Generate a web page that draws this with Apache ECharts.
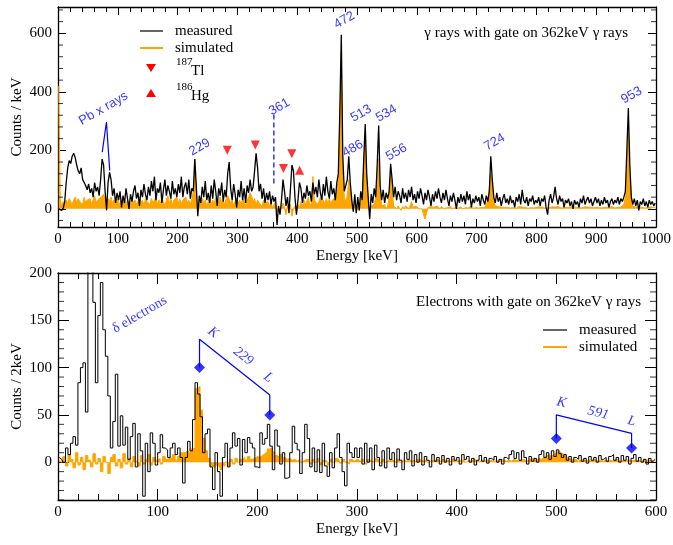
<!DOCTYPE html>
<html>
<head>
<meta charset="utf-8">
<script src="https://cdn.jsdelivr.net/npm/echarts@6/dist/echarts.min.js"></script>
<style>
  html, body { margin: 0; padding: 0; background: #fff; }
  #chart { width: 673px; height: 545px; }
</style>
</head>
<body>
<div id="chart"></div>
<script>
// ---- gamma spectrum (upper panel), one value per 2.5 keV starting at 0 keV
const GAMMA_BIN = 2.5;
const gammaMeasured = [
  0,2,-5,3,25,90,140,165,155,180,190,175,150,130,120,140,100,95,80,65,
  85,55,70,40,90,60,75,45,100,170,150,60,-5,90,125,100,45,70,20,55,
  30,60,5,45,20,70,35,0,50,25,60,80,35,55,10,65,40,85,50,30,
  75,45,95,60,110,30,70,55,90,20,65,100,45,80,60,35,95,50,70,40,
  85,55,110,40,75,90,50,100,35,70,60,170,80,-25,45,20,75,40,95,30,
  55,20,80,35,100,60,10,70,45,90,25,65,40,120,160,70,30,85,50,5,
  65,40,95,30,70,20,80,55,100,60,75,130,190,140,60,85,35,70,20,55,
  30,60,15,45,25,40,-55,10,-20,30,100,60,10,40,-15,70,150,130,40,-20,
  30,90,70,20,55,35,80,45,60,25,90,50,75,40,100,55,30,85,45,110,
  60,35,95,50,70,30,90,120,330,595,180,60,60,100,180,90,30,-10,50,-15,
  40,-5,60,30,170,290,120,40,-35,50,20,70,40,150,285,80,30,65,20,55,
  35,60,154,100,40,75,30,60,45,20,70,35,55,25,65,40,75,30,50,20,
  60,35,70,45,15,55,30,65,40,10,50,25,60,35,70,40,20,55,30,65,
  35,10,45,25,55,30,0,40,20,50,25,45,15,60,30,50,5,35,20,45,
  25,40,10,50,30,15,45,25,60,180,100,40,20,55,25,40,10,35,50,20,
  35,15,45,20,30,5,40,25,50,15,65,30,20,40,10,35,25,45,15,30,
  20,40,10,35,25,45,5,-20,30,50,20,40,75,35,15,45,25,35,5,30,
  20,35,10,25,0,30,15,25,5,35,20,45,15,30,40,20,35,10,25,40,
  20,35,10,30,15,40,20,30,5,25,35,15,30,20,40,15,35,25,40,60,
  200,345,150,40,15,35,10,30,-5,25,15,35,10,25,5,30,15,25,10,20
];
const gammaSimulated = [
  420,30,10,25,15,30,20,35,25,15,30,40,20,35,25,30,15,40,20,30,
  25,35,15,30,45,20,30,25,40,35,50,30,20,35,25,40,20,30,15,35,
  25,10,30,20,35,15,30,25,10,35,20,30,15,25,40,20,30,10,35,25,
  30,15,35,20,25,40,15,30,20,35,25,10,30,45,20,35,15,30,25,40,
  20,35,15,30,25,40,20,30,15,35,60,170,40,-5,25,15,35,20,30,10,
  25,40,15,30,20,35,10,25,40,20,30,15,35,45,40,20,30,10,25,35,
  20,30,15,35,25,10,30,40,55,45,25,35,15,30,20,25,10,30,20,15,
  25,10,20,5,15,25,-10,5,-15,10,20,5,-20,10,-5,15,-25,0,10,-10,
  15,5,25,10,30,15,20,40,10,20,110,30,35,15,25,40,20,30,15,35,
  20,35,15,30,25,40,60,100,300,540,150,40,25,45,100,60,15,5,20,-10,
  10,-5,20,40,150,250,90,20,-10,10,5,15,40,120,170,50,10,5,15,0,
  10,40,130,60,10,5,0,10,5,-5,8,0,10,5,0,10,25,5,0,10,
  5,0,-5,0,-20,-35,-15,5,0,8,3,5,0,10,5,0,8,5,0,6,
  5,3,8,0,6,4,10,2,5,7,0,6,4,8,3,5,10,2,6,4,
  5,3,8,5,10,5,15,30,70,120,80,25,10,5,8,3,6,4,5,3,
  5,8,3,6,4,7,2,5,8,4,6,3,5,7,2,6,4,8,3,5,
  6,4,7,3,5,8,2,6,4,5,7,3,6,4,8,5,3,6,4,7,
  5,3,6,4,7,2,5,8,4,6,3,5,7,4,6,3,5,8,4,6,
  5,7,3,6,4,8,5,3,6,4,7,5,3,8,5,6,6,8,15,40,
  150,260,120,30,8,5,7,3,6,4,5,8,3,6,4,5,7,3,5,4
];
const gammaYMajor = [0, 200, 400, 600];
const gammaYMinor = [-40, 40, 80, 120, 160, 240, 280, 320, 360, 440, 480, 520, 560, 640, 680];

// markers: [energy, counts]
const tlPoints = [[283, 200], [330, 218], [377, 138], [391, 188]];
const hgPoints = [[404, 132]];
const gammaLabels = [
  [237, 211, '229'], [479, 645, '472'], [493, 206, '486'], [507, 326, '513'],
  [549, 326, '534'], [566, 194, '556'], [730, 228, '724'], [959, 388, '953'],
  [370, 348, '361'], [76, 343, 'Pb x rays']
];
const pbLine = [[74, 194], [81, 297], [86.5, 131]];
const line361 = [[361, 87], [361, 327]];

// ---- electron spectrum (lower panel), one value per 2.5 keV bin
const ELEC_BIN = 2.5;
const elecMeasured = [
  5,3,0,15,8,20,27,18,84,100,105,53,210,215,169,84,155,190,140,112,
  70,15,43,93,17,49,18,37,3,27,41,-5,30,12,-36,20,-10,31,20,-3,
  10,29,15,13,5,15,20,8,15,5,-22,5,22,12,45,84,72,48,10,30,
  35,-5,-29,10,-10,-36,5,20,-5,15,31,17,25,-3,24,10,26,20,15,-5,
  -6,31,19,25,40,17,-8,34,17,-2,10,-17,-16,10,38,20,13,-12,10,40,
  25,-5,15,-10,13,-11,20,-4,-15,10,-6,15,30,5,-10,-25,20,10,5,15,
  5,15,-2,20,0,15,-8,18,5,-4,12,-6,15,3,10,-5,14,2,-8,10,
  3,12,-4,8,0,10,-3,6,2,-5,8,1,5,-2,7,0,4,-3,6,2,
  5,-2,8,3,6,0,4,-3,2,7,1,5,-1,4,2,6,0,3,-2,5,
  3,8,12,4,10,2,12,5,-2,6,1,4,0,8,12,5,10,3,12,6,
  13,9,5,8,2,6,0,5,3,7,1,4,-1,6,2,5,0,7,3,5,
  1,6,8,2,5,0,7,2,6,-2,4,8,1,5,0,3,-2,4,1,3
];
const elecSimulated = [
  2,0,6,-4,8,3,-6,10,-3,5,-8,7,2,-5,9,-2,4,-10,6,0,
  -12,5,8,-4,3,-6,9,-2,4,-5,6,1,-4,7,-2,3,8,-3,5,2,
  4,-2,6,3,5,4,8,2,6,10,10,12,10,14,15,78,80,55,25,12,
  4,-4,-6,-3,-5,-8,-4,0,-4,3,-2,4,0,3,5,2,6,3,4,6,
  5,7,9,11,14,15,11,7,5,8,5,3,4,2,3,1,3,0,2,3,
  3,-2,3,0,4,-3,2,1,-3,3,0,4,2,-1,3,0,-2,3,1,3,
  2,0,3,-2,3,1,0,4,2,-1,3,0,2,3,1,-1,3,0,2,1,
  3,1,2,0,3,2,1,3,0,2,1,3,2,0,3,1,2,0,3,1,
  2,1,3,0,2,1,3,2,0,2,1,3,1,2,0,2,1,3,2,1,
  2,1,3,2,1,2,3,1,2,4,3,2,4,3,5,6,8,6,8,10,
  12,10,8,6,4,3,2,3,1,2,3,1,2,1,3,2,1,2,1,2,
  1,2,1,3,2,1,2,1,3,1,2,1,2,1,2,1,3,1,2,1
];
const elecYMajor = [0, 50, 100, 150, 200];
const elecYMinor = [-40, -30, -20, -10, 10, 20, 30, 40, 60, 70, 80, 90, 110, 120, 130, 140, 160, 170, 180, 190];

const kl229Line = [[142, 100], [142, 130], [212.5, 71], [212.5, 50]];
const kl229Marks = [[142, 100], [212.5, 50]];
const kl229Labels = [[155.6, 137, 'K'], [186, 112, '229'], [211, 89.5, 'L']];
const kl591Line = [[500, 25], [500, 50], [575.5, 30.5], [575.5, 15]];
const kl591Marks = [[500, 25], [575.5, 15]];
const kl591Labels = [[505, 63, 'K'], [542, 52, '591'], [575.6, 43.5, 'L']];
const deltaLabel = [[82, 156, 'δ electrons']];

const FONT = 'Liberation Serif';
const BLUE = '#0000ff';
const ORANGE = '#ffa500';

const toXY = (vals, bin) => vals.map((v, i) => [i * bin + bin / 2, v]);

function xAxisPair(grid, max, majLen, minLen) {
  const mk = (pos, labeled) => ({
    type: 'value', gridIndex: grid, min: 0, max: max, interval: 100, position: pos,
    name: labeled ? 'Energy [keV]' : '', nameLocation: 'middle', nameGap: 22, nameMoveOverlap: false,
    nameTextStyle: { fontFamily: FONT, fontSize: 15, color: '#000' },
    axisLine: { show: true, onZero: false, lineStyle: { color: '#000', width: 1.3 } },
    axisTick: { show: true, inside: true, length: majLen, lineStyle: { color: '#000' } },
    minorTick: { show: true, splitNumber: 5, length: minLen, lineStyle: { color: '#000' } },
    axisLabel: { show: labeled, fontFamily: FONT, fontSize: 15, color: '#000', margin: 5, formatter: v => String(v) },
    splitLine: { show: false }, minorSplitLine: { show: false }
  });
  return [mk('bottom', true), mk('top', false)];
}

function yAxisPair(grid, min, max, major, name, majLen) {
  const mk = (pos, labeled) => ({
    type: 'value', gridIndex: grid, min: min, max: max, position: pos,
    name: labeled ? name : '', nameLocation: 'middle', nameGap: 33, nameMoveOverlap: false,
    nameTextStyle: { fontFamily: FONT, fontSize: 15, color: '#000' },
    axisLine: { show: true, onZero: false, lineStyle: { color: '#000', width: 1.3 } },
    axisTick: { show: true, inside: true, length: majLen, customValues: major, lineStyle: { color: '#000' } },
    axisLabel: { show: labeled, customValues: major, fontFamily: FONT, fontSize: 15, color: '#000', margin: 6 },
    splitLine: { show: false }
  });
  return [mk('left', true), mk('right', false)];
}

// short inward ticks along both y axes, placed through the value scale
function minorTicks(xi, yi, xMin, xMax, values, len) {
  const s = {
    type: 'scatter', xAxisIndex: xi, yAxisIndex: yi, symbol: 'rect', silent: true, clip: false,
    symbolSize: [len, 1], itemStyle: { color: '#000' }, z: 6
  };
  return [
    Object.assign({}, s, { data: values.map(v => [xMin, v]), symbolOffset: [len / 2, 0] }),
    Object.assign({}, s, { data: values.map(v => [xMax, v]), symbolOffset: [-len / 2, 0] })
  ];
}

function textSeries(xi, yi, items, rotate, labelStyle) {
  return {
    type: 'scatter', xAxisIndex: xi, yAxisIndex: yi, symbolSize: 0, silent: true, z: 5,
    data: items.map(d => ({ value: [d[0], d[1]], label: { formatter: d[2] } })),
    label: Object.assign({ show: true, position: 'inside', color: BLUE, rotate: rotate }, labelStyle)
  };
}

const sansLabel = { fontFamily: 'Liberation Sans', fontSize: 13 };
const serifItalic = { fontFamily: FONT, fontSize: 14, fontStyle: 'italic' };
const txt = (x, y, text, size, align) => ({
  type: 'text', x: x, y: y,
  style: { text: text, font: size + 'px "Liberation Serif"', fill: '#000', align: align || 'left', textAlign: align || 'left', verticalAlign: 'middle', textVerticalAlign: 'middle' }
});

const chart = echarts.init(document.getElementById('chart'));

const option = {
  animation: false,
  backgroundColor: '#fff',
  textStyle: { fontFamily: FONT },
  grid: [
    { left: 58, right: 17, top: 7, height: 220, outerBoundsMode: 'none' },
    { left: 58, right: 17, top: 273, height: 227, outerBoundsMode: 'none' }
  ],
  xAxis: [].concat(xAxisPair(0, 1000, 8, 5), xAxisPair(1, 600, 11, 6)),
  yAxis: [].concat(
    yAxisPair(0, -62, 690, gammaYMajor, 'Counts / keV', 8),
    yAxisPair(1, -40, 200, elecYMajor, 'Counts / 2keV', 11)
  ),
  series: [].concat(
    [
      // upper panel
      {
        type: 'line', xAxisIndex: 0, yAxisIndex: 0, data: toXY(gammaSimulated, GAMMA_BIN),
        symbol: 'none', lineStyle: { color: ORANGE, width: 1 }, areaStyle: { color: ORANGE, opacity: 1 }, z: 1
      },
      {
        type: 'line', xAxisIndex: 0, yAxisIndex: 0, data: toXY(gammaMeasured, GAMMA_BIN),
        symbol: 'none', lineStyle: { color: '#000', width: 1.3 }, z: 2
      },
      {
        type: 'scatter', xAxisIndex: 0, yAxisIndex: 0, data: tlPoints, symbol: 'triangle',
        symbolRotate: 180, symbolSize: 9, itemStyle: { color: '#ff0000' }, z: 4
      },
      {
        type: 'scatter', xAxisIndex: 0, yAxisIndex: 0, data: hgPoints, symbol: 'triangle',
        symbolSize: 9, itemStyle: { color: '#ff0000' }, z: 4
      },
      {
        type: 'line', xAxisIndex: 0, yAxisIndex: 0, data: pbLine, symbol: 'none',
        lineStyle: { color: BLUE, width: 1.2 }, z: 4
      },
      {
        type: 'line', xAxisIndex: 0, yAxisIndex: 0, data: line361, symbol: 'none',
        lineStyle: { color: BLUE, width: 1.2, type: [5, 3] }, z: 4
      },
      textSeries(0, 0, gammaLabels, 30, sansLabel),

      // lower panel
      {
        type: 'line', xAxisIndex: 2, yAxisIndex: 2, data: toXY(elecSimulated, ELEC_BIN), step: 'middle',
        symbol: 'none', lineStyle: { color: ORANGE, width: 1 }, areaStyle: { color: ORANGE, opacity: 1 }, z: 1
      },
      {
        type: 'line', xAxisIndex: 2, yAxisIndex: 2, data: toXY(elecMeasured, ELEC_BIN), step: 'middle',
        symbol: 'none', lineStyle: { color: '#000', width: 1 }, z: 2
      },
      {
        type: 'line', xAxisIndex: 2, yAxisIndex: 2, data: kl229Line, symbol: 'none',
        lineStyle: { color: BLUE, width: 1.2 }, z: 4
      },
      {
        type: 'line', xAxisIndex: 2, yAxisIndex: 2, data: kl591Line, symbol: 'none',
        lineStyle: { color: BLUE, width: 1.2 }, z: 4
      },
      {
        type: 'scatter', xAxisIndex: 2, yAxisIndex: 2, data: kl229Marks.concat(kl591Marks),
        symbol: 'diamond', symbolSize: 11, itemStyle: { color: BLUE }, z: 5
      },
      textSeries(2, 2, kl229Labels, -38, serifItalic),
      textSeries(2, 2, kl591Labels, -14, serifItalic),
      textSeries(2, 2, deltaLabel, 30, { fontFamily: FONT, fontSize: 14 })
    ],
    minorTicks(0, 0, 0, 1000, gammaYMinor, 5),
    minorTicks(2, 2, 0, 600, elecYMinor, 6)
  ),
  graphic: [
    // upper legend and title
    { type: 'line', shape: { x1: 140, y1: 31, x2: 163, y2: 31 }, style: { stroke: '#333', lineWidth: 1.5 } },
    txt(175, 31, 'measured', 15),
    { type: 'line', shape: { x1: 140, y1: 48, x2: 163, y2: 48 }, style: { stroke: ORANGE, lineWidth: 2 } },
    txt(175, 48, 'simulated', 15),
    { type: 'polygon', shape: { points: [[146, 64], [156, 64], [151, 72]] }, style: { fill: '#ff0000' } },
    txt(176, 62, '187', 11),
    txt(191, 71, 'Tl', 15),
    { type: 'polygon', shape: { points: [[146, 97], [156, 97], [151, 89]] }, style: { fill: '#ff0000' } },
    txt(176, 87, '186', 11),
    txt(191, 96, 'Hg', 15),
    txt(628, 33, 'γ rays with gate on 362keV γ rays', 15, 'right'),

    // lower legend and title
    txt(641, 302, 'Electrons with gate on 362keV γ rays', 15, 'right'),
    { type: 'line', shape: { x1: 543, y1: 330, x2: 567, y2: 330 }, style: { stroke: '#333', lineWidth: 1.5 } },
    txt(579, 330, 'measured', 15),
    { type: 'line', shape: { x1: 543, y1: 347, x2: 567, y2: 347 }, style: { stroke: ORANGE, lineWidth: 2 } },
    txt(579, 347, 'simulated', 15)
  ]
};

chart.setOption(option);
</script>
</body>
</html>
